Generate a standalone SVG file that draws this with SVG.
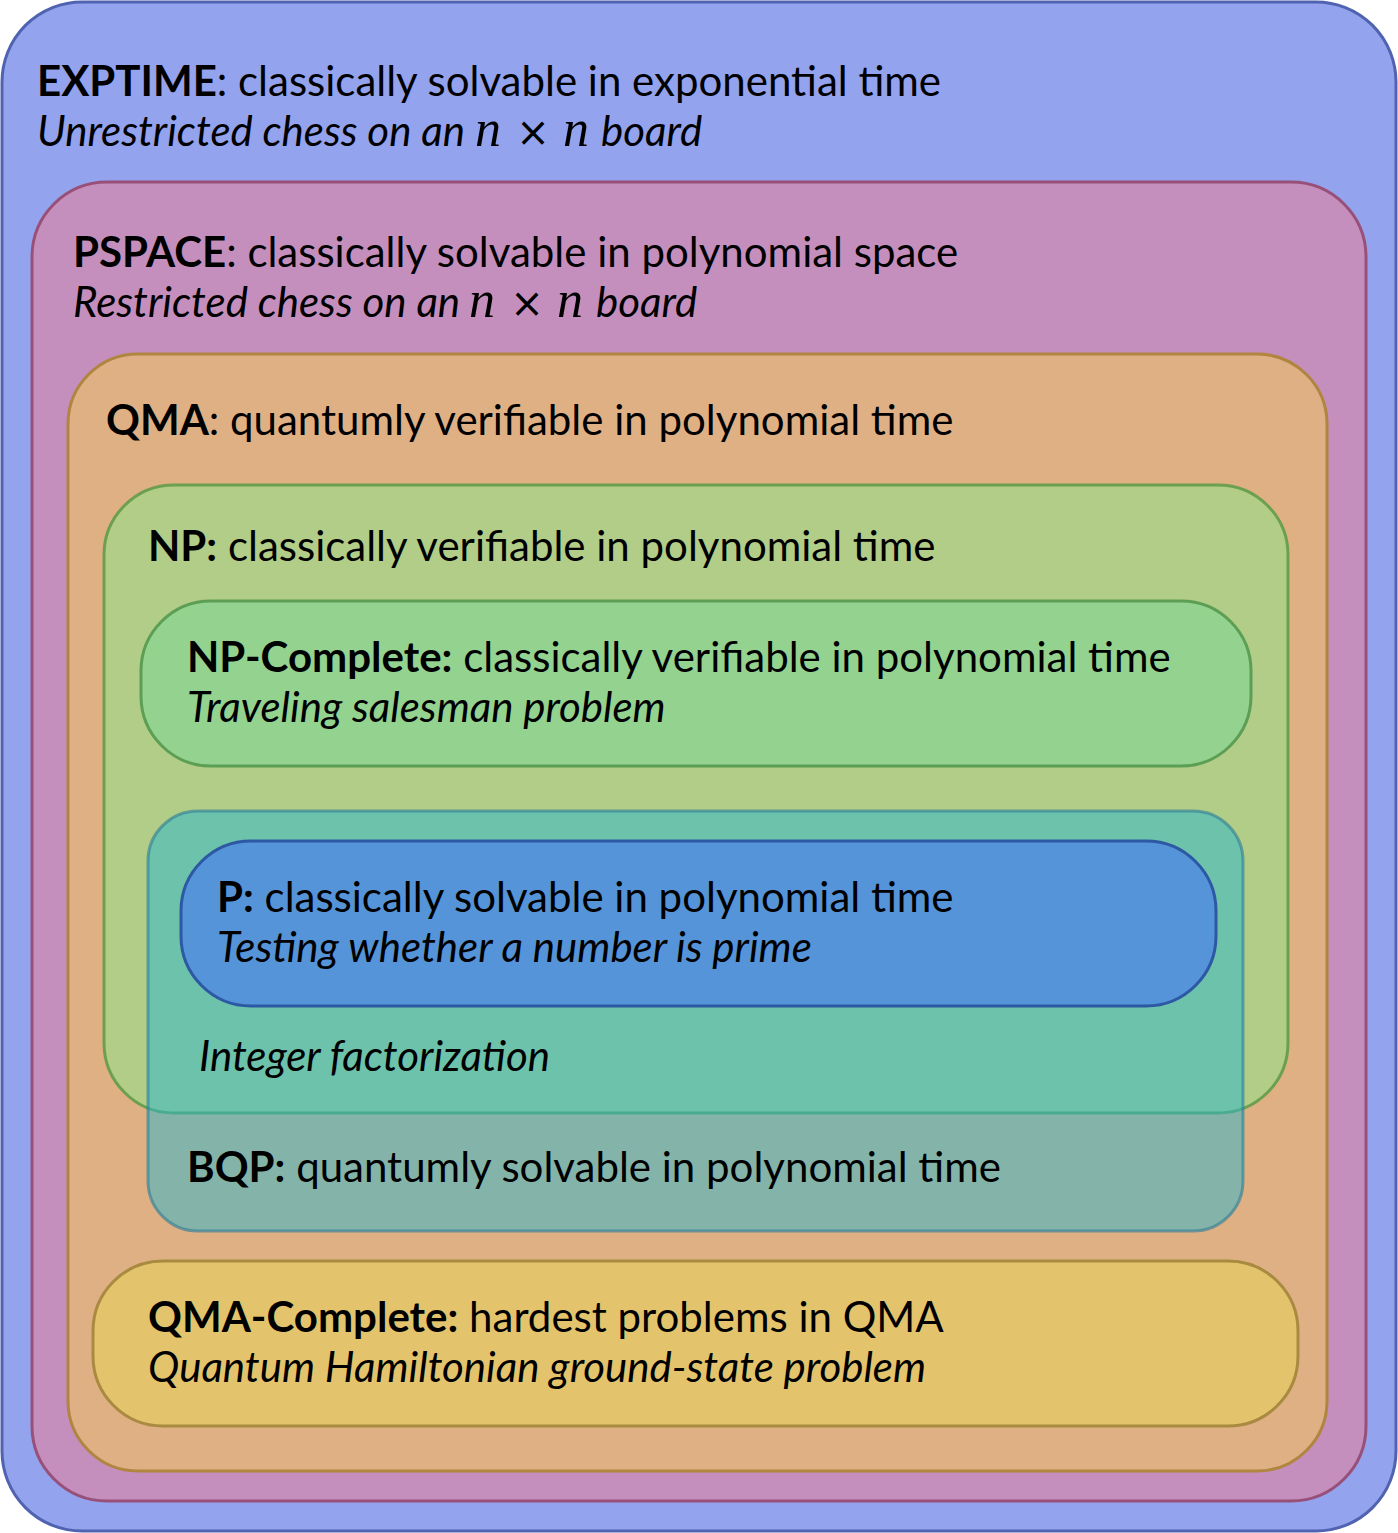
<svg xmlns="http://www.w3.org/2000/svg" width="1398" height="1533" viewBox="0 0 1398 1533">
<style>
text{font-family:Lato,"Open Sans","Liberation Sans",sans-serif;font-size:42px;fill:#000}
.b{font-weight:bold}
.i{font-style:italic}
.m{font-family:"Liberation Serif","DejaVu Serif",serif;font-style:italic;font-size:52px}
.x{font-family:"DejaVu Sans","Liberation Sans",sans-serif;font-size:40px;text-anchor:middle}
rect{stroke-width:3}
</style>
<g id="exptime">
<rect x="2" y="2" width="1394" height="1529" rx="80" fill="#94a3ee" stroke="#4f63b0"/>
<text x="37" y="96"><tspan class="b">EXPTIME</tspan>: classically solvable in exponential time</text>
<text x="37" y="146" class="i">Unrestricted chess on an</text>
<text x="475" y="146" class="m">n</text>
<text x="533" y="146" class="x">×</text>
<text x="563" y="146" class="m">n</text>
<text x="601" y="146" class="i">board</text>
</g>
<g id="pspace">
<rect x="32" y="182" width="1334" height="1319" rx="75" fill="#c58fbd" stroke="#985078"/>
<text x="73" y="267"><tspan class="b">PSPACE</tspan>: classically solvable in polynomial space</text>
<text x="73" y="317" class="i">Restricted chess on an</text>
<text x="469" y="317" class="m">n</text>
<text x="527" y="317" class="x">×</text>
<text x="557" y="317" class="m">n</text>
<text x="596" y="317" class="i">board</text>
</g>
<g id="qma">
<rect x="68" y="354" width="1259" height="1117" rx="70" fill="#e0b085" stroke="#b08540"/>
<text x="106" y="435"><tspan class="b">QMA</tspan>: quantumly verifiable in polynomial time</text>
</g>
<g id="np">
<rect x="104" y="485" width="1184" height="628" rx="70" fill="#b1cd87" stroke="#6c9f50"/>
<text x="148" y="561"><tspan class="b">NP:</tspan> classically verifiable in polynomial time</text>
</g>
<g id="np-complete">
<rect x="141" y="601" width="1110" height="165" rx="70" fill="#94d290" stroke="#5d9e55"/>
<text x="187" y="672"><tspan class="b">NP-Complete:</tspan> classically verifiable in polynomial time</text>
<text x="187" y="722" class="i">Traveling salesman problem</text>
</g>
<g id="bqp">
<rect x="148" y="811" width="1095" height="420" rx="50" fill="#27b7cd" fill-opacity="0.5" stroke="#2a7c98" stroke-opacity="0.6"/>
<text x="199" y="1071" class="i">Integer factorization</text>
<text x="187" y="1182"><tspan class="b">BQP:</tspan> quantumly solvable in polynomial time</text>
</g>
<g id="p">
<rect x="181" y="841" width="1035" height="165" rx="70" fill="#5594d8" stroke="#2c58a4"/>
<text x="217" y="912"><tspan class="b">P:</tspan> classically solvable in polynomial time</text>
<text x="217" y="962" class="i">Testing whether a number is prime</text>
</g>
<g id="qma-complete">
<rect x="93" y="1261" width="1205" height="165" rx="70" fill="#e3c46c" stroke="#a88a40"/>
<text x="148" y="1332"><tspan class="b">QMA-Complete:</tspan> hardest problems in QMA</text>
<text x="148" y="1382" class="i">Quantum Hamiltonian ground-state problem</text>
</g>
<g id="connectors"/>
</svg>
